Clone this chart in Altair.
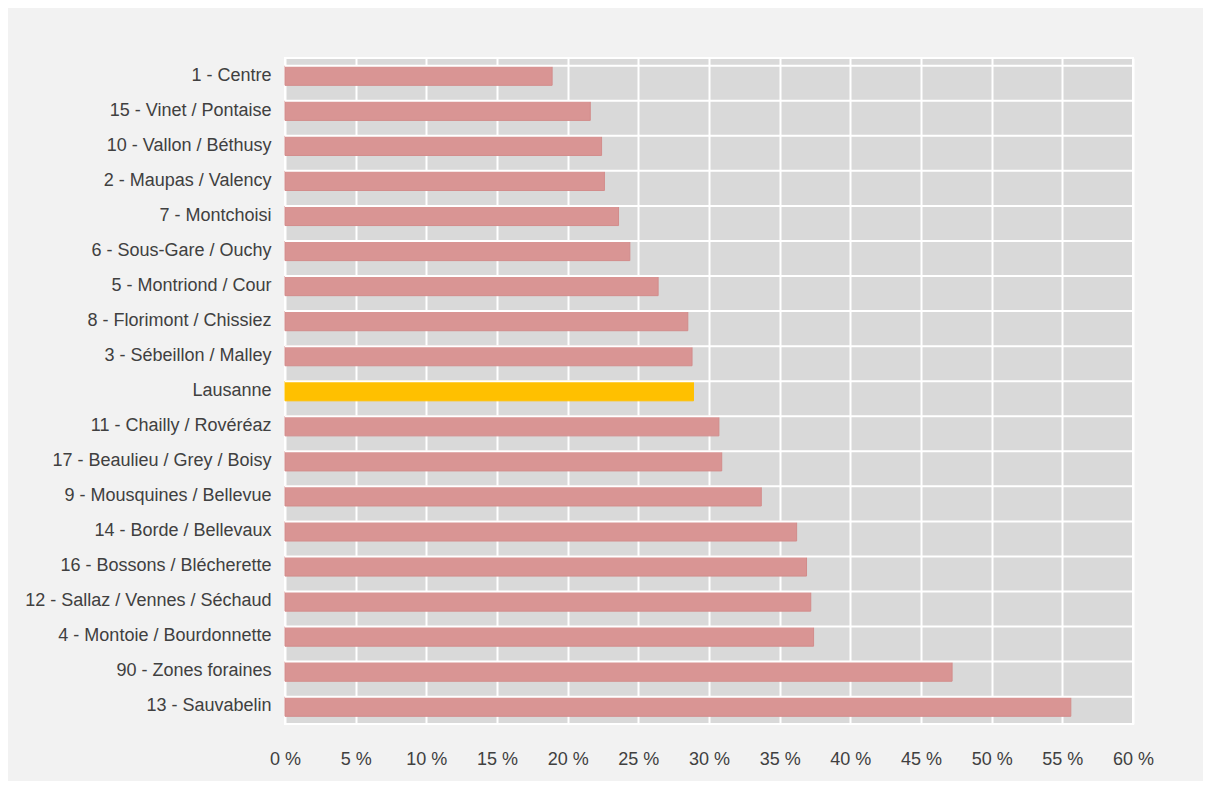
import altair as alt
import pandas as pd

categories = [
    "1 - Centre", "15 - Vinet / Pontaise", "10 - Vallon / Béthusy", "2 - Maupas / Valency",
    "7 - Montchoisi", "6 - Sous-Gare / Ouchy", "5 - Montriond / Cour", "8 - Florimont / Chissiez",
    "3 - Sébeillon / Malley", "Lausanne", "11 - Chailly / Rovéréaz", "17 - Beaulieu / Grey / Boisy",
    "9 - Mousquines / Bellevue", "14 - Borde / Bellevaux", "16 - Bossons / Blécherette",
    "12 - Sallaz / Vennes / Séchaud", "4 - Montoie / Bourdonnette", "90 - Zones foraines",
    "13 - Sauvabelin",
]
values = [18.9, 21.6, 22.4, 22.6, 23.6, 24.4, 26.4, 28.5, 28.8, 28.9, 30.7, 30.9,
          33.7, 36.2, 36.9, 37.2, 37.4, 47.2, 55.6]
x_ticks = list(range(0, 61, 5))

df = pd.DataFrame({"cat": categories, "val": values})
df["grp"] = ["total" if c == "Lausanne" else "q" for c in categories]

FONT = "Liberation Sans, Arial"
yscale = alt.Scale(domain=categories, paddingInner=0.44, paddingOuter=0.22)
xscale = alt.Scale(domain=[0, 60], nice=False)

bars = alt.Chart(df).mark_bar(strokeWidth=1).encode(
    x=alt.X("val:Q", scale=xscale, axis=alt.Axis(
        values=x_ticks, labelExpr="datum.value + ' %'", title=None, grid=True,
        gridColor="white", gridWidth=2, domain=False, ticks=False, labelFlush=False,
        labelPadding=26, labelFontSize=18, labelColor="#404040", labelFont=FONT)),
    y=alt.Y("cat:N", scale=yscale, sort=categories, axis=alt.Axis(
        title=None, grid=False, domain=False, ticks=False, labelPadding=14,
        labelFontSize=18, labelColor="#404040", labelLimit=400, labelFont=FONT)),
    color=alt.Color("grp:N", scale=alt.Scale(domain=["q", "total"], range=["#d99594", "#ffc000"]), legend=None),
    stroke=alt.Stroke("grp:N", scale=alt.Scale(domain=["q", "total"], range=["#d28c8b", "#ffc000"]), legend=None),
)

hlines = alt.Chart(df).mark_rule(color="white", strokeWidth=2).encode(
    y=alt.Y("cat:N", scale=yscale, sort=categories, bandPosition=0),
)

chart = alt.layer(bars, hlines).properties(
    width=848, height=666,
    autosize=alt.AutoSizeParams(type="none"),
    padding={"left": 277, "top": 50, "right": 70, "bottom": 57},
    background="#f2f2f2",
).configure_view(fill="#d9d9d9", stroke="white", strokeWidth=2)

chart.save("out.html", embed_options={"renderer": "svg", "actions": False})
